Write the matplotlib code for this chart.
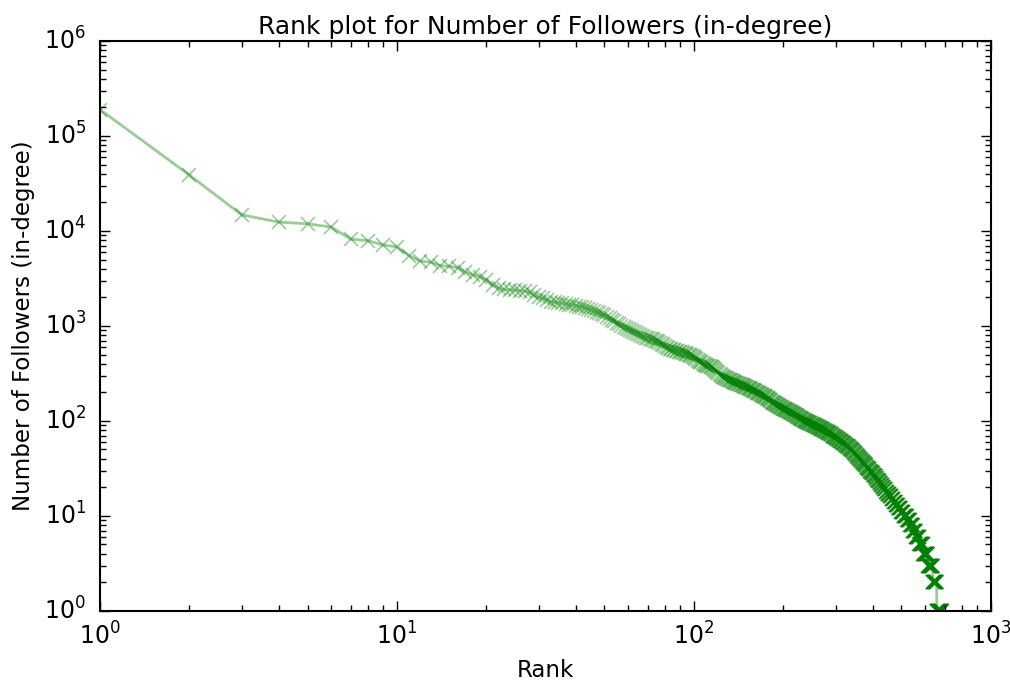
import numpy as np
import matplotlib
matplotlib.use('Agg')
import matplotlib.pyplot as plt

# follower counts, highest first (ranks 1..292)
top_degrees = [
    190000, 38800, 14800, 12400, 11900, 11000, 8200, 7900, 7100, 6800,
    5500, 4800, 4700, 4300, 4250, 4100, 3700, 3450, 3300, 3050,
    2700, 2500, 2420, 2400, 2380, 2350, 2320, 2250, 2100, 2000,
    1950, 1880, 1800, 1780, 1750, 1730, 1700, 1680, 1660, 1630,
    1600, 1580, 1550, 1520, 1480, 1440, 1400, 1360, 1320, 1290,
    1250, 1200, 1150, 1120, 1080, 1040, 1000, 980, 950, 920,
    900, 885, 870, 850, 830, 810, 790, 770, 755, 740,
    730, 720, 713, 700, 690, 675, 660, 645, 630, 615,
    600, 590, 578, 565, 558, 552, 547, 542, 537, 532,
    527, 521, 515, 510, 505, 500, 495, 488, 480, 470,
    460, 450, 440, 430, 422, 414, 406, 399, 392, 386,
    382, 378, 375, 373, 365, 357, 350, 342, 335, 327,
    320, 312, 305, 298, 292, 287, 283, 280, 277, 274,
    272, 270, 268, 265, 262, 259, 256, 253, 250, 248,
    246, 244, 242, 240, 238, 236, 234, 232, 230, 228,
    226, 224, 222, 221, 219, 216, 213, 211, 209, 207,
    205, 203, 201, 199, 197, 195, 193, 191, 189, 187,
    185, 183, 181, 179, 177, 175, 173, 171, 168, 166,
    164, 162, 160, 158, 156, 155, 153, 151, 150, 148,
    147, 146, 144, 143, 141, 140, 139, 137, 136, 135,
    134, 133, 132, 131, 130, 129, 128, 127, 126, 125,
    124, 123, 122, 121, 120, 119, 118, 117, 116, 115,
    114, 113, 112, 111, 110, 109, 108, 107, 106, 105,
    104, 104, 103, 102, 101, 100, 100, 99, 99, 98,
    98, 97, 97, 96, 95, 94, 94, 93, 93, 92,
    92, 91, 91, 90, 90, 89, 89, 88, 88, 87,
    87, 86, 86, 85, 85, 84, 84, 83, 83, 82,
    82, 81, 81, 80, 80, 79, 79, 78, 78, 77,
    77, 76, 76, 75, 75, 74, 74, 73, 73, 72,
    72, 71,
]

# low degrees repeat a lot: (degree, how many users have it)
tail_runs = [
    (70, 2), (69, 2), (68, 2), (67, 2), (66, 3), (65, 2), (64, 2), (63, 2),
    (62, 3), (61, 2), (60, 2), (59, 3), (58, 2), (57, 2), (56, 3), (55, 2),
    (54, 3), (53, 2), (52, 2), (51, 2), (50, 2), (49, 3), (48, 2), (47, 2),
    (46, 3), (45, 2), (44, 2), (43, 3), (42, 2), (41, 3), (40, 2), (39, 3),
    (38, 2), (37, 3), (36, 3), (35, 3), (34, 3), (33, 3), (32, 3), (31, 4),
    (30, 3), (29, 4), (28, 4), (27, 4), (26, 4), (25, 4), (24, 4), (23, 4),
    (22, 5), (21, 5), (20, 5), (19, 6), (18, 6), (17, 7), (16, 7), (15, 8),
    (14, 8), (13, 9), (12, 10), (11, 11), (10, 14), (9, 12), (8, 12),
    (7, 12), (6, 15), (5, 18), (4, 22), (3, 24), (2, 20), (1, 27),
]

degrees = list(top_degrees)
for d, c in tail_runs:
    degrees += [d] * c
ranks = np.arange(1, len(degrees) + 1)

plt.style.use('classic')
plt.rcParams['font.family'] = ['DejaVu Sans']

fig = plt.figure(figsize=(10.1, 6.84), dpi=100, facecolor='white')
ax = fig.add_axes([0.099, 0.107, 0.882, 0.833])
ax.loglog(ranks, degrees, 'g-x', alpha=0.4, lw=2, ms=10, mew=1.2)
ax.set_xlim(1, 1000)
ax.set_ylim(1, 1e6)
ax.set_title('Rank plot for Number of Followers (in-degree)', fontsize=18)
ax.set_xlabel('Rank', fontsize=16.5, labelpad=7)
ax.set_ylabel('Number of Followers (in-degree)', fontsize=16.5, labelpad=7)
ax.tick_params(labelsize=17, which='both')
ax.tick_params(which='major', length=7, width=1)
ax.tick_params(which='minor', length=4, width=1)
ax.tick_params(axis='x', which='both', pad=8)
ax.tick_params(axis='y', which='both', pad=10)
for s in ax.spines.values():
    s.set_linewidth(1.5)

fig.savefig('out.png', dpi=100, facecolor='white')
